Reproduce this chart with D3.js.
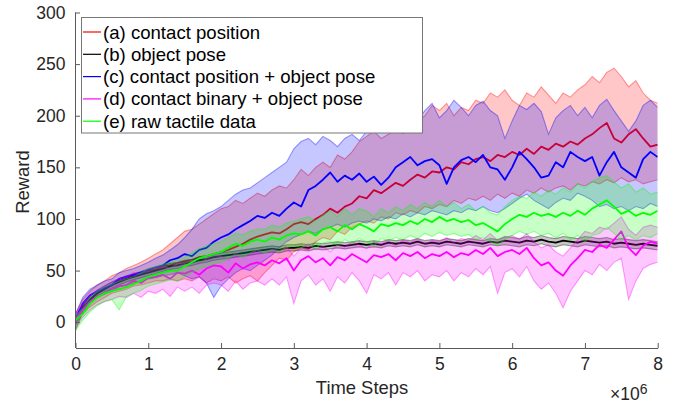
<!DOCTYPE html>
<html><head><meta charset="utf-8">
<script src="https://cdn.jsdelivr.net/npm/d3@7"></script>
<style>
body{margin:0;background:#fff}
svg{display:block;font-family:"Liberation Sans",Arial,Helvetica,sans-serif}
</style>
</head><body>
<svg id="chart" width="683" height="405"></svg>
<script>
// time grid: every 1e5 steps from 0 to 8e6
const steps = d3.range(81).map(i => i * 1e5);

const yTicks = [0, 50, 100, 150, 200, 250, 300];
const xTicks = [0, 1e6, 2e6, 3e6, 4e6, 5e6, 6e6, 7e6, 8e6];

const names = ["(a) contact position", "(b) object pose", "(c) contact position + object pose",
               "(d) contact binary + object pose", "(e) raw tactile data"];
const colors = ["#ff0000", "#000000", "#0000ff", "#ff00ff", "#00ff00"];

// (a) contact position
const aMean = [3,15,22,28,33,36,40,42,45,47, 50,51,54,55,57,59,60,63,64,66, 68,70,73,76,80,83,85,87,86,90,
  95,97,95,100,104,110,106,112,115,122, 120,128,125,130,135,132,138,143,140,146, 145,150,148,155,153,158,160,156,162,160,
  165,162,168,163,170,167,173,170,175,172, 178,182,188,193,178,174,182,187,178,170, 172];
const aHi = [8,22,30,36,40,45,48,52,55,58, 62,66,70,76,82,88,90,95,100,105, 110,112,118,115,120,125,122,128,132,130,
  138,148,142,150,155,150,162,158,165,175, 180,185,178,182,186,183,188,195,200,210, 205,212,200,208,205,215,212,222,218,225,
  215,210,222,218,228,220,212,222,218,225, 230,238,232,242,246,238,228,234,222,215, 212];
const aLo = [-3,8,15,20,24,28,30,32,35,36, 38,40,40,42,40,42,40,44,38,42, 40,44,38,42,45,40,48,55,62,60,
  68,72,70,78,82,80,88,85,92,95, 98,96,102,100,106,104,108,106,112,110, 114,112,118,115,120,118,122,118,124,120,
  125,122,128,125,130,126,130,132,128,134, 132,136,134,138,135,140,136,138,134,136, 138];

// (b) object pose
const bMean = [2,14,22,28,32,36,39,42,44,46, 48,50,52,54,55,57,58,60,61,63, 64,65,66,67,68,69,70,71,70,72,
  72,73,72,74,73,74,75,74,75,76, 75,76,75,77,76,77,76,78,76,77, 76,78,77,76,78,77,76,78,77,79,
  78,77,79,78,80,78,77,79,78,77, 79,78,77,78,76,77,76,75,76,75, 74];
const bHi = [5,17,25,31,35,39,42,45,47,49, 51,53,55,57,58,60,61,63,64,66, 67,68,69,70,71,72,73,74,73,75,
  75,76,75,77,76,77,78,77,78,79, 78,79,78,80,79,80,79,81,79,80, 79,81,80,79,81,80,79,81,80,83,
  82,81,83,82,84,82,81,83,82,81, 83,82,81,82,80,81,80,79,80,79, 78];
const bLo = [-8,10,19,25,29,33,36,39,41,43, 45,47,49,51,52,54,55,57,58,60, 61,62,63,64,65,66,67,68,67,69,
  69,70,69,71,70,71,72,71,72,73, 72,73,72,74,73,74,73,75,73,74, 73,75,74,73,75,74,73,75,74,75,
  74,73,75,74,76,74,73,75,74,73, 75,74,73,74,72,73,72,71,72,71, 70];

// (c) contact position + object pose
const cMean = [3,18,26,30,33,36,42,44,46,48, 51,53,55,60,62,66,64,70,72,78, 82,85,90,94,98,103,101,106,103,110,
  116,112,128,132,138,145,136,142,138,144, 136,141,133,140,150,155,160,152,156,158, 152,134,150,157,160,155,162,150,148,138,
  150,165,158,150,140,142,155,150,165,160, 156,160,142,155,165,150,145,140,158,165, 160];
const cHi = [8,24,32,36,40,42,48,50,52,55, 58,62,65,70,75,82,90,100,105,108, 112,118,124,128,130,135,140,145,150,155,
  168,175,178,172,180,176,170,178,182,176, 185,196,200,198,202,205,200,195,205,212, 198,205,215,208,200,210,214,205,200,178,
  195,210,206,212,204,182,198,205,210,200, 208,198,210,216,205,195,185,195,210,215, 208];
const cLo = [-2,12,20,24,27,30,34,36,38,40, 42,43,45,46,48,45,42,44,38,24, 35,42,48,52,50,55,60,65,72,78,
  82,85,88,86,90,92,95,92,96,98, 96,100,98,102,100,105,102,106,104,108, 106,104,108,106,110,108,112,108,106,110,
  115,120,124,118,114,110,116,120,118,125, 122,118,112,114,110,112,108,112,110,115, 112];

// (d) contact binary + object pose
const dMean = [3,12,20,25,28,32,35,36,40,38, 43,44,46,42,48,47,50,46,52,55, 54,48,57,52,56,58,55,60,57,62,
  50,60,64,58,62,55,63,60,66,62, 58,65,63,66,60,67,64,68,62,66, 64,68,63,67,65,70,66,72,64,68,
  70,66,72,62,55,58,50,45,55,62, 70,68,75,72,80,88,72,65,74,78, 76];
const dHi = [8,18,26,31,35,39,42,44,48,47, 52,53,55,52,57,57,60,57,62,65, 64,60,67,63,67,69,67,71,69,73,
  64,72,76,70,74,68,75,73,78,75, 71,78,76,79,74,80,77,81,76,79, 78,82,77,81,79,84,80,86,79,82,
  84,80,86,78,72,75,68,64,72,80, 88,86,92,90,96,102,90,84,92,94, 92];
const dLo = [-5,5,12,17,20,22,25,24,28,24, 30,28,32,25,34,30,34,28,36,38, 36,30,40,32,38,40,36,42,36,44,
  18,40,46,36,42,30,44,38,48,40, 28,46,42,48,36,48,44,50,40,46, 44,50,40,48,44,52,46,54,28,48,
  52,44,54,40,32,38,28,14,30,40, 50,46,56,50,58,62,22,40,52,56, 58];

// (e) raw tactile data
const eMean = [2,8,18,24,28,30,32,34,37,40, 44,46,48,50,50,54,58,62,64,66, 68,72,76,74,78,80,78,82,80,84,
  86,85,88,84,90,92,88,94,90,95, 92,88,95,93,96,94,98,95,100,97, 102,98,100,97,99,94,96,92,88,95,
  100,104,102,106,103,105,102,106,103,108, 104,110,114,118,112,105,108,103,106,104, 108];
const eHi = [6,14,24,30,34,37,40,42,44,48, 52,54,56,58,60,63,67,71,74,76, 78,82,86,85,88,90,90,94,92,96,
  98,100,102,98,104,108,102,110,104,110, 108,102,110,106,112,108,114,110,116,112, 118,112,116,110,114,108,112,106,104,112,
  118,122,120,126,122,128,124,130,126,134, 130,136,140,142,136,130,134,126,130,124, 126];
const eLo = [-8,2,10,16,20,22,12,25,28,31, 35,37,39,41,40,44,48,52,54,56, 58,62,65,63,67,70,67,70,68,72,
  74,72,75,71,77,78,74,80,76,81, 78,74,81,79,82,80,84,81,86,83, 87,84,86,83,85,80,82,78,74,80,
  84,88,85,88,84,86,82,86,80,84, 78,84,86,92,86,80,84,80,84,82, 86];

const series = [
  {mean: aMean, hi: aHi, lo: aLo},
  {mean: bMean, hi: bHi, lo: bLo},
  {mean: cMean, hi: cHi, lo: cLo},
  {mean: dMean, hi: dHi, lo: dLo},
  {mean: eMean, hi: eHi, lo: eLo}
].map((s, i) => Object.assign(s, {name: names[i], color: colors[i]}));

const svg = d3.select("#chart");
const L = 75.5, R = 657.7, T = 12.5, B = 348;
const x = d3.scaleLinear().domain([0, 8e6]).range([L, R]);
const y = d3.scaleLinear().domain([-25, 300]).range([B, T]);
const txt = "#262626", axc = "#5a5a5a";

svg.append("defs").append("clipPath").attr("id", "clip")
  .append("rect").attr("x", L).attr("y", T).attr("width", R - L).attr("height", B - T);

const plot = svg.append("g").attr("clip-path", "url(#clip)");

series.forEach(s => {
  const area = d3.area().x((d, i) => x(steps[i])).y0((d, i) => y(s.lo[i])).y1((d, i) => y(s.hi[i]));
  const line = arr => d3.line().x((d, i) => x(steps[i])).y(d => y(d))(arr);
  plot.append("path").attr("d", area(s.mean)).attr("fill", s.color).attr("fill-opacity", 0.22).attr("stroke", "none");
  [s.hi, s.lo].forEach(arr => plot.append("path").attr("d", line(arr))
    .attr("fill", "none").attr("stroke", s.color).attr("stroke-opacity", 0.38).attr("stroke-width", 1.1));
  plot.append("path").attr("d", line(s.mean)).attr("fill", "none")
    .attr("stroke", s.color).attr("stroke-width", 1.8).attr("stroke-linejoin", "round");
});

// axes
const xAxis = svg.append("g").attr("transform", `translate(0,${B})`)
  .call(d3.axisBottom(x).tickValues(xTicks).tickFormat(d => d / 1e6).tickSizeInner(-5).tickSizeOuter(0).tickPadding(10));
const yAxis = svg.append("g").attr("transform", `translate(${L},0)`)
  .call(d3.axisLeft(y).tickValues(yTicks).tickSizeInner(-5).tickSizeOuter(0).tickPadding(9.5));
[xAxis, yAxis].forEach(g => {
  g.select(".domain").attr("stroke", axc).attr("stroke-width", 1);
  g.selectAll(".tick line").attr("stroke", axc);
  g.selectAll(".tick text").attr("fill", txt).style("font-size", "17.5px").style("font-family", null);
  g.attr("font-family", null).attr("font-size", null);
});
yAxis.select(".domain").attr("d", `M0.5,${B}V${T}`);
yAxis.attr("transform", `translate(${L - 0.5},0)`);

svg.append("text").attr("x", 362).attr("y", 394).attr("text-anchor", "middle")
  .attr("fill", txt).style("font-size", "18.4px").text("Time Steps");
svg.append("text").attr("transform", "translate(29,182) rotate(-90)").attr("text-anchor", "middle")
  .attr("fill", txt).style("font-size", "18.4px").text("Reward");
const ex = svg.append("text").attr("x", 610).attr("y", 400).attr("fill", txt).style("font-size", "17.5px");
ex.append("tspan").text("×10");
ex.append("tspan").attr("dy", -6).style("font-size", "14px").text("6");

// legend
const lg = svg.append("g");
lg.append("rect").attr("x", 81.5).attr("y", 17.5).attr("width", 341).attr("height", 115.5)
  .attr("fill", "#fff").attr("stroke", "#777").attr("stroke-width", 1);
series.forEach((s, i) => {
  const cy = 32 + i * 22.3;
  lg.append("line").attr("x1", 83).attr("x2", 101).attr("y1", cy).attr("y2", cy)
    .attr("stroke", s.color).attr("stroke-width", 1.2);
  lg.append("text").attr("x", 103).attr("y", cy + 6.5).attr("fill", "#000")
    .style("font-size", "18.6px").text(s.name);
});
</script>
</body></html>
